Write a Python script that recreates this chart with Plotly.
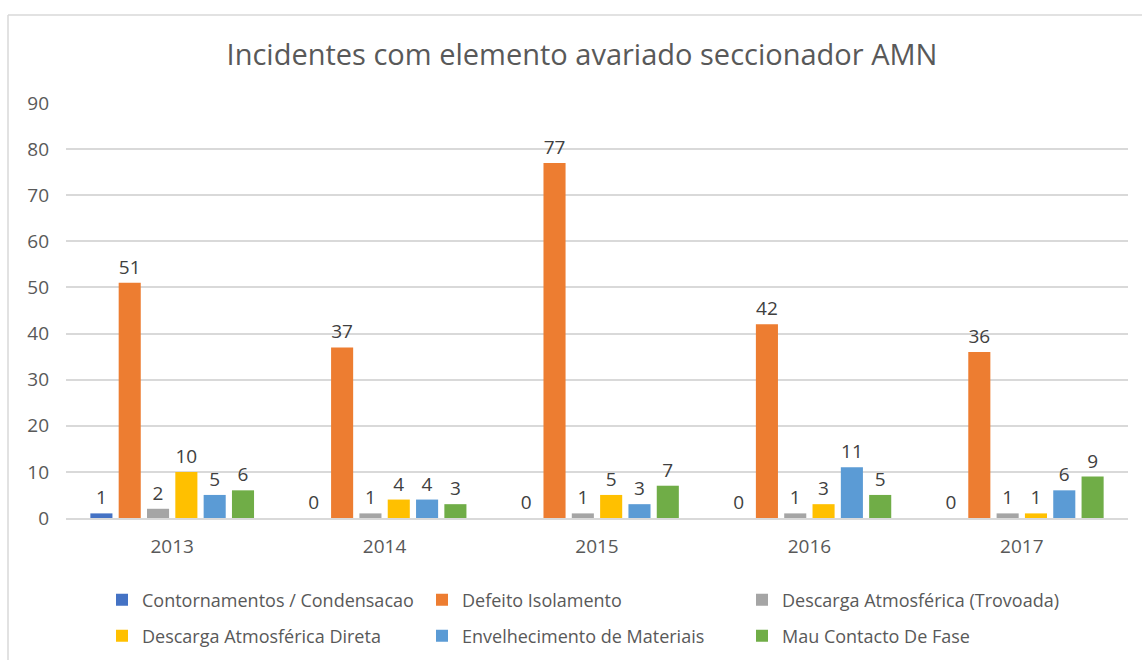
import plotly.graph_objects as go

years = ["2013", "2014", "2015", "2016", "2017"]
series_names = [
    "Contornamentos / Condensacao",
    "Defeito Isolamento",
    "Descarga Atmosférica (Trovoada)",
    "Descarga Atmosférica Direta",
    "Envelhecimento de Materiais",
    "Mau Contacto De Fase",
]
contornamentos = [1, 0, 0, 0, 0]
defeito_isolamento = [51, 37, 77, 42, 36]
descarga_trovoada = [2, 1, 1, 1, 1]
descarga_direta = [10, 4, 5, 3, 1]
envelhecimento = [5, 4, 3, 11, 6]
mau_contacto = [6, 3, 7, 5, 9]
colors = ["#4472C4", "#ED7D31", "#A5A5A5", "#FFC000", "#5B9BD5", "#70AD47"]

values = [contornamentos, defeito_isolamento, descarga_trovoada,
          descarga_direta, envelhecimento, mau_contacto]

FONT = "Open Sans"
fig = go.Figure()
for i, (name, vals, col) in enumerate(zip(series_names, values, colors)):
    fig.add_trace(go.Bar(
        x=years, y=vals, name=name, marker_color=col, marker_line_width=0,
        text=vals, textposition="outside", cliponaxis=False,
        textfont=dict(family=FONT, size=19, color="#404040"),
        legend="legend" if i < 3 else "legend2",
    ))

W, H = 1142, 660
L, R, T, B = 66, 14, 103, 142
pw, ph = W - L - R, H - T - B

def px(x):
    return (x - L) / pw

def py(y):
    return (H - B - y) / ph

leg_common = dict(orientation="h", xanchor="left", yanchor="middle",
                  entrywidth=275, entrywidthmode="pixels", traceorder="normal",
                  font=dict(family=FONT, size=18, color="#595959"),
                  itemwidth=30, bgcolor="rgba(0,0,0,0)")

fig.update_layout(
    width=W, height=H,
    margin=dict(l=L, r=R, t=T, b=B, autoexpand=False),
    paper_bgcolor="white", plot_bgcolor="white",
    barmode="group", bargap=0.2, bargroupgap=0.22,
    title=dict(text="Incidentes com elemento avariado seccionador AMN",
               x=582 / W, xanchor="center", y=1 - 55 / H, yanchor="middle",
               font=dict(family=FONT, size=29, color="#595959")),
    font=dict(family=FONT, color="#595959"),
    xaxis=dict(showgrid=False, showline=True, linecolor="#D9D9D9", linewidth=1.5,
               ticks="", ticklabelstandoff=10,
               tickfont=dict(family=FONT, size=19, color="#595959")),
    yaxis=dict(range=[0, 90], dtick=10, showgrid=True, gridcolor="#D9D9D9",
               gridwidth=1.5, zeroline=False, ticks="", ticklabelstandoff=16,
               tickfont=dict(family=FONT, size=19, color="#595959")),
    legend=dict(x=px(102), y=py(600), **leg_common),
    legend2=dict(x=px(102), y=py(636), **leg_common),
    showlegend=True,
    shapes=[
        dict(type="line", xref="paper", yref="paper", x0=px(8), x1=px(1142),
             y0=py(15), y1=py(15), line=dict(color="#D9D9D9", width=1.5)),
        dict(type="line", xref="paper", yref="paper", x0=px(8), x1=px(8),
             y0=py(15), y1=py(660), line=dict(color="#D9D9D9", width=1.5)),
    ],
)

fig.write_html("out.html", config={"displayModeBar": False},
               post_script="document.body.style.margin='0';")
